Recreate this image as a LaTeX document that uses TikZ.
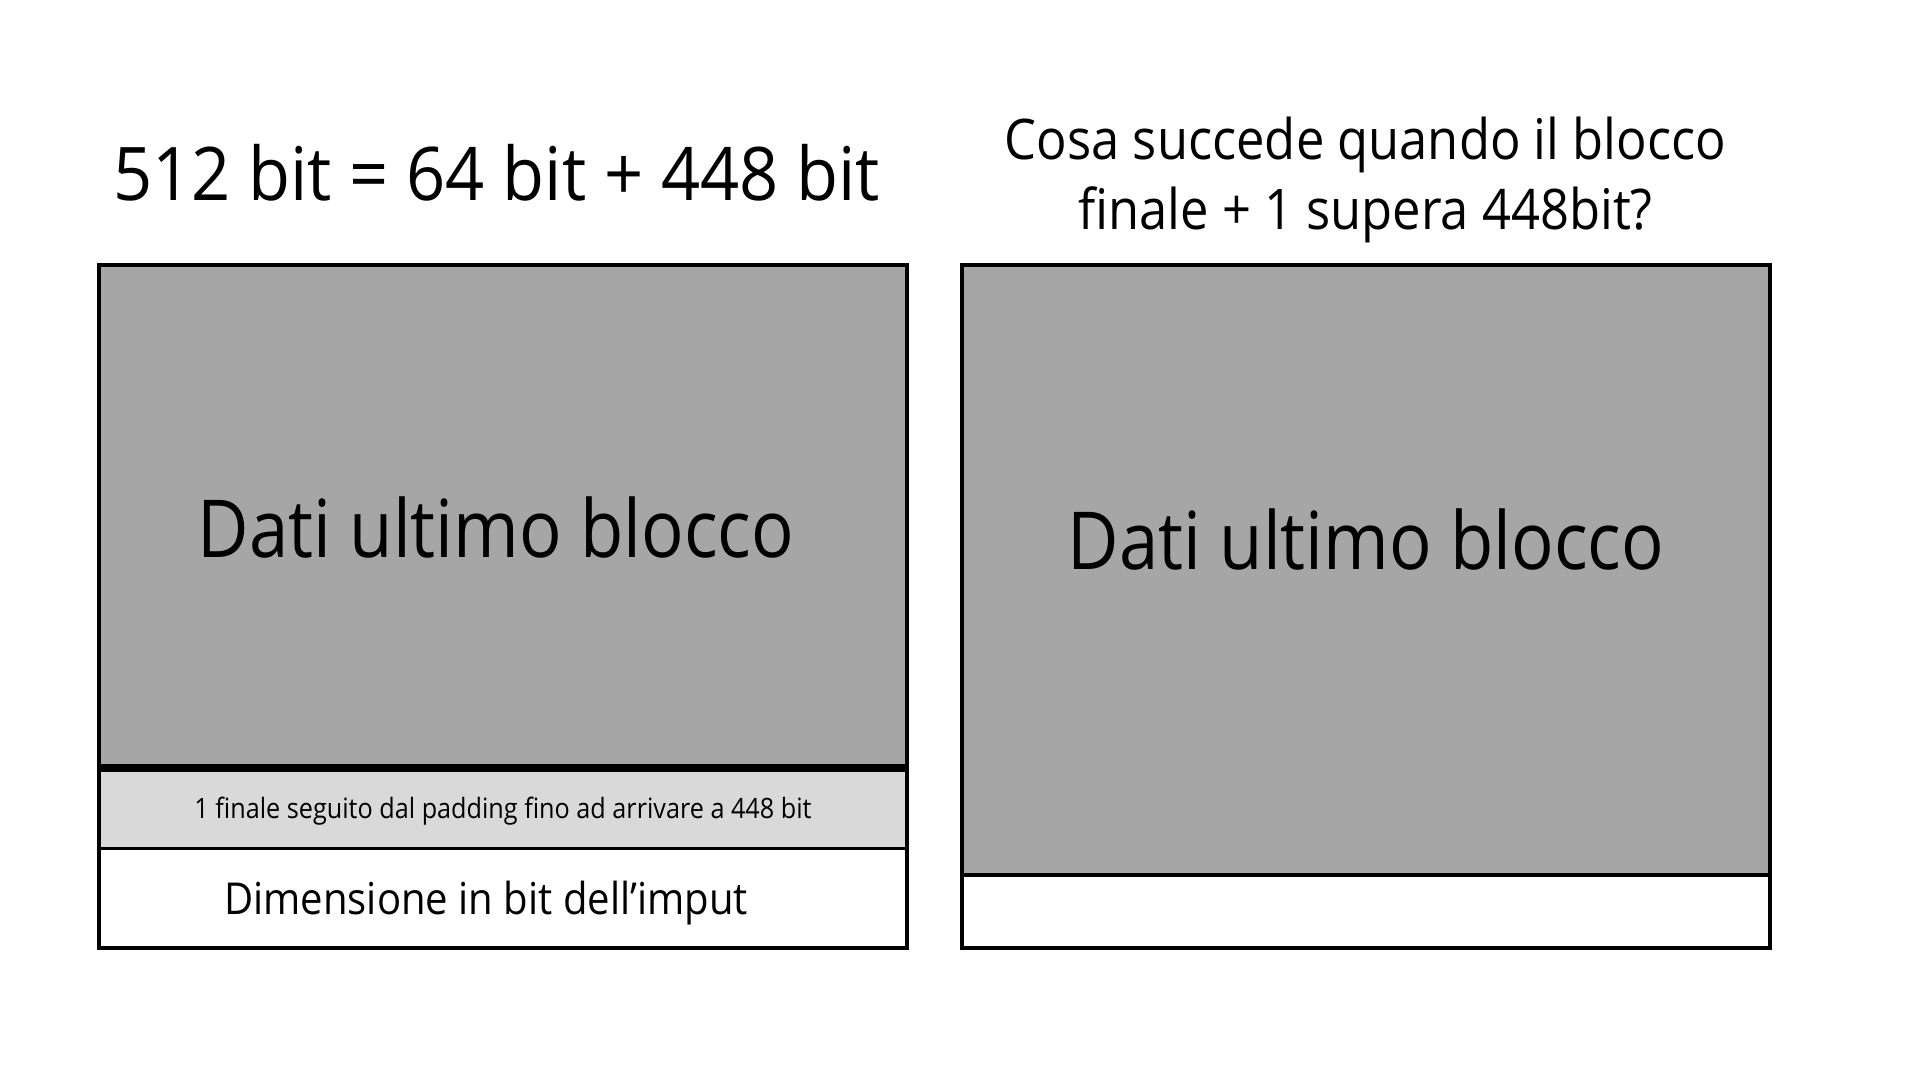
\documentclass[tikz,border=0pt]{standalone}
\usepackage{graphicx}
\usepackage{fontspec}
\setmainfont{Open Sans}
\definecolor{darkfill}{HTML}{A6A6A6}
\definecolor{lightfill}{HTML}{D9D9D9}
\tikzset{
  region/.style={rectangle, draw=none, inner sep=0pt, outer sep=0pt},
  label/.style={inner sep=0pt, anchor=base, text=black},
  frame/.style={draw=black, line width=4pt},
}
\newcommand{\fs}[1]{\fontsize{#1}{#1}\selectfont}
\newcommand{\sx}[2]{\scalebox{#1}[1]{#2}}
\begin{document}
\begin{tikzpicture}[x=1pt,y=-1pt]
\useasboundingbox[fill=white] (0,0) rectangle (1920,1080);
% left block
\node[region, fill=darkfill, minimum width=808pt, minimum height=503pt] (ldark) at (503,516.5) {};
\node[region, fill=lightfill, minimum width=808pt, minimum height=80.5pt] (llight) at (503,808.25) {};
\node[region, fill=white, minimum width=808pt, minimum height=99.5pt] (lwhite) at (503,898.25) {};
\draw[line width=8pt] (ldark.south west) -- (ldark.south east);
\draw[line width=3pt] (llight.south west) -- (llight.south east);
\draw[frame] (ldark.north west) rectangle (lwhite.south east);
% right block
\node[region, fill=darkfill, minimum width=808pt, minimum height=609.5pt] (rdark) at (1366,569.75) {};
\node[region, fill=white, minimum width=808pt, minimum height=73.5pt] (rwhite) at (1366,911.25) {};
\draw[line width=4pt] (rdark.south west) -- (rdark.south east);
\draw[frame] (rdark.north west) rectangle (rwhite.south east);
% texts
\node[label, font=\fs{74}] (title) at (496.5,200) {\sx{0.926}{512 bit = 64 bit + 448 bit}};
\node[label, font=\fs{56}] (q1) at (1365.5,159) {\sx{0.905}{Cosa succede quando il blocco}};
\node[label, font=\fs{56}] (q2) at (1365.5,229) {\sx{0.905}{finale + 1 supera 448bit?}};
\node[label, font=\fs{80}] (ldati) at (496,557) {\sx{0.883}{Dati ultimo blocco}};
\node[label, font=\fs{80}] (rdati) at (1366,569) {\sx{0.883}{Dati ultimo blocco}};
\node[label, font=\fs{28}] (pad) at (503,818) {\sx{0.90}{1 finale seguito dal padding fino ad arrivare a 448 bit}};
\node[label, font=\fs{44}] (dim) at (486,914) {\sx{0.91}{Dimensione in bit dell’imput}};
\end{tikzpicture}
\end{document}
